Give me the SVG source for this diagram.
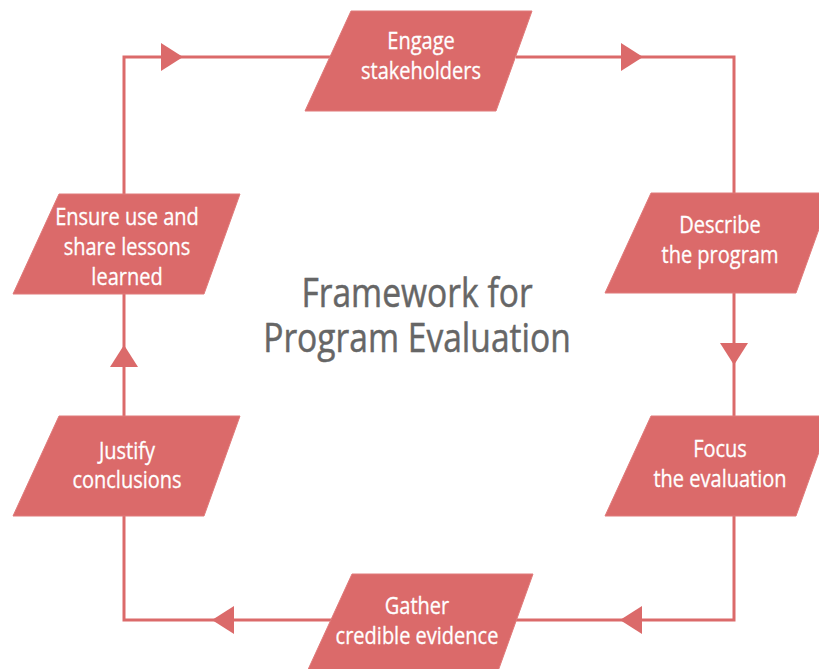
<svg xmlns="http://www.w3.org/2000/svg" xmlns:xlink="http://www.w3.org/1999/xlink" width="819" height="669" viewBox="0 0 819 669">
  <style>
    .bg { fill: #ffffff; }
    .step { fill: #db6a6a; stroke: #e07a7a; stroke-width: 1; }
    .label { font-family: "Open Sans", "Noto Sans", "Liberation Sans", sans-serif; font-size: 23px; fill: #ffffff; stroke: #ffffff; stroke-width: 0.3; text-anchor: middle; }
    .title { font-family: "Open Sans", "Noto Sans", "Liberation Sans", sans-serif; font-size: 40px; fill: #666666; stroke: #666666; stroke-width: 0.5; text-anchor: middle; }
    .link { fill: none; stroke: #db6a6a; stroke-width: 3; }
  </style>
  <defs>
    <!-- slanted step shape: left side leans more than the right -->
    <polygon id="para" points="46,0 227,0 191,100 0,100"/>
    <marker id="arrow" markerUnits="userSpaceOnUse" markerWidth="22" markerHeight="28" viewBox="0 0 22 28" refX="22" refY="14" orient="auto">
      <path d="M0,0 L22,14 L0,28 Z" fill="#db6a6a"/>
    </marker>
  </defs>

  <rect class="bg" x="0" y="0" width="819" height="669"/>

  <!-- cycle connectors -->
  <g id="connectors">
    <path class="link" d="M516 57 H643" marker-end="url(#arrow)"/>
    <path class="link" d="M643 57 H734 V193"/>
    <path class="link" d="M734 293 V365" marker-end="url(#arrow)"/>
    <path class="link" d="M734 365 V416"/>
    <path class="link" d="M734 515 V620 H620" marker-end="url(#arrow)"/>
    <path class="link" d="M620 620 H516"/>
    <path class="link" d="M331 620 H212" marker-end="url(#arrow)"/>
    <path class="link" d="M212 620 H124 V515"/>
    <path class="link" d="M124 416 V345" marker-end="url(#arrow)"/>
    <path class="link" d="M124 345 V293"/>
    <path class="link" d="M124 194 V57 H183" marker-end="url(#arrow)"/>
    <path class="link" d="M183 57 H330"/>
  </g>

  <!-- narrow lettering: glyphs squeezed horizontally -->
  <g id="title" transform="translate(417 0) scale(0.84 1)">
    <text class="title" x="0" y="307">Framework for</text>
    <text class="title" x="0" y="352">Program Evaluation</text>
  </g>

  <g id="engage">
    <use xlink:href="#para" class="step" x="305" y="11"/>
    <g transform="translate(421 0) scale(0.87 1)">
      <text class="label" x="0" y="49">Engage</text>
      <text class="label" x="0" y="79">stakeholders</text>
    </g>
  </g>

  <g id="describe">
    <use xlink:href="#para" class="step" x="605" y="193"/>
    <g transform="translate(720 0) scale(0.87 1)">
      <text class="label" x="0" y="233">Describe</text>
      <text class="label" x="0" y="263">the program</text>
    </g>
  </g>

  <g id="focus">
    <use xlink:href="#para" class="step" x="605" y="416"/>
    <g transform="translate(720 0) scale(0.87 1)">
      <text class="label" x="0" y="457">Focus</text>
      <text class="label" x="0" y="487">the evaluation</text>
    </g>
  </g>

  <g id="gather">
    <use xlink:href="#para" class="step" x="306" y="574"/>
    <g transform="translate(417 0) scale(0.87 1)">
      <text class="label" x="0" y="614">Gather</text>
      <text class="label" x="0" y="644">credible evidence</text>
    </g>
  </g>

  <g id="justify">
    <use xlink:href="#para" class="step" x="13" y="416"/>
    <g transform="translate(127 0) scale(0.87 1)">
      <text class="label" x="0" y="459">Justify</text>
      <text class="label" x="0" y="488">conclusions</text>
    </g>
  </g>

  <g id="ensure">
    <use xlink:href="#para" class="step" x="13" y="194"/>
    <g transform="translate(127 0) scale(0.87 1)">
      <text class="label" x="0" y="225">Ensure use and</text>
      <text class="label" x="0" y="255">share lessons</text>
      <text class="label" x="0" y="285">learned</text>
    </g>
  </g>
</svg>
